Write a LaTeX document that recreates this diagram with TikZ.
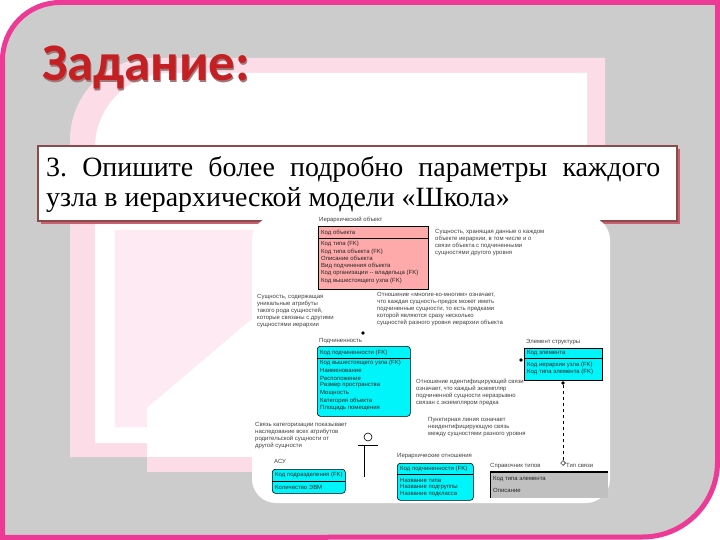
\documentclass[tikz,border=0pt]{standalone}
\usepackage{fontspec}
\setmainfont{Liberation Serif}
\newfontfamily\titlefont{Carlito}
\newfontfamily\dfont{Liberation Sans}
\usetikzlibrary{shapes.geometric}
\frenchspacing
\definecolor{bordpink}{RGB}{236,58,150}
\definecolor{slgray}{RGB}{204,204,204}
\definecolor{framepink}{RGB}{252,221,231}
\definecolor{lightpink}{RGB}{253,234,242}
\definecolor{titlered}{RGB}{196,32,36}
\definecolor{titleshadow}{RGB}{160,120,120}
\definecolor{boxbrd}{RGB}{140,75,75}
\definecolor{boxshadow}{RGB}{200,95,115}
\definecolor{entpink}{RGB}{255,170,170}
\definecolor{entcyan}{RGB}{0,245,250}
\definecolor{entgray}{RGB}{192,192,192}
\begin{document}
\begin{tikzpicture}[x=1bp,y=-1bp,
  dtext/.style={font=\dfont\fontsize{6}{7}\selectfont, inner sep=0pt, anchor=north west, align=left, text=black!75},
  ent/.style={draw=black, line width=0.6bp, inner sep=0pt, anchor=north west},
  row/.style={font=\dfont\fontsize{6}{7}\selectfont, inner sep=0pt, anchor=west, text=black!85},
  sep/.style={draw=black, line width=0.5bp},
  dot/.style={circle, fill=black, inner sep=0pt, minimum size=3.6bp},
]
\useasboundingbox (0,0) rectangle (720,540);
\fill[white] (0,0) rectangle (720,540);
% slide background
\draw[bordpink, line width=5bp, fill=slgray] (2.5,537.5) -- (2.5,60)
  arc[start angle=180, end angle=270, radius=57.5] -- (717.5,2.5) -- (717.5,462)
  arc[start angle=0, end angle=90, radius=75] -- cycle;
% decorative frame
\fill[framepink] (70,457) -- (70,140) arc[start angle=180, end angle=270, radius=82] -- (605,58) -- (605,457) -- cycle;
\fill[white] (95,443) -- (95,148) arc[start angle=180, end angle=270, radius=75] -- (587,73) -- (587,443) -- cycle;
\fill[lightpink] (115,230) -- (253,230) -- (253,318) -- (147,408) -- (147,427) -- (115,427) -- cycle;
\fill[white] (147,408) -- (253,318) -- (253,457) -- (147,457) -- cycle;
\fill[framepink] (147,457) rectangle (253,472);
% title
\node[anchor=base west, inner sep=0pt, text=titleshadow, font=\titlefont\bfseries\fontsize{53}{53}\selectfont] (titlesh) at (43.2,82.2) {Задание:};
\node[anchor=base west, inner sep=0pt, text=titlered, font=\titlefont\bfseries\fontsize{53}{53}\selectfont] (title) at (42,81) {Задание:};
% question box
\fill[boxshadow] (41,149) rectangle (680,224);
\draw[boxbrd, line width=1.2bp, fill=white] (38,146) rectangle (677,221);
\node[anchor=base west, inner sep=0pt, font=\fontsize{28}{30}\selectfont] (q1) at (46,177) {\makebox[614bp][s]{3. Опишите более подробно параметры каждого}};
\node[anchor=base west, inner sep=0pt, font=\fontsize{28}{30}\selectfont] (q2) at (46,207) {узла в иерархической модели «Школа»};
% diagram picture
\fill[white, rounded corners=24bp] (252,216) rectangle (610,503);
% entity: hierarchical object
\node[dtext] (t1) at (319,217) {Иерархический объект};
\node[ent, fill=entpink, minimum width=110bp, minimum height=63bp] (e1) at (318,226) {};
\draw[sep] (318,238) -- (428,238);
\node[row] (e1r1) at (321,232.5) {Код объекта};
\node[row] (e1r2) at (321,244) {Код типа (FK)};
\node[row] (e1r3) at (321,251.5) {Код типа объекта (FK)};
\node[row] (e1r4) at (321,258.5) {Описание объекта};
\node[row] (e1r5) at (321,265.5) {Вид подчинения объекта};
\node[row] (e1r6) at (321,273) {Код организации -- владельца (FK)};
\node[row] (e1r7) at (321,280.5) {Код вышестоящего узла (FK)};
% notes
\node[dtext] (n1) at (435,229) {Сущность, хранящая данные о каждом\\объекте иерархии, в том числе и о\\связи объекта с подчиненными\\сущностями другого уровня};
\node[dtext] (n2) at (257,294) {Сущность, содержащая\\уникальные атрибуты\\такого рода сущностей,\\которые связаны с другими\\сущностями иерархии};
\node[dtext] (n3) at (377,292) {Отношение «многие-ко-многим» означает,\\что каждая сущность-предок может иметь\\подчиненные сущности, то есть предками\\которой являются сразу несколько\\сущностей разного уровня иерархии объекта};
\node[dot] (d1) at (363,333) {};
% entity: subordination
\node[dtext] (t2) at (319,338.5) {Подчиненность};
\node[ent, fill=entcyan, rounded corners=3bp, minimum width=93bp, minimum height=70bp] (e2) at (317,346) {};
\draw[sep] (317,358) -- (410,358);
\node[row] (e2r1) at (320,352.5) {Код подчиненности (FK)};
\node[row] (e2r2) at (320,363) {Код вышестоящего узла (FK)};
\node[row] (e2r3) at (320,370.5) {Наименование};
\node[row] (e2r4) at (320,378) {Расположение};
\node[row] (e2r5) at (320,385.5) {Размер пространства};
\node[row] (e2r6) at (320,393) {Мощность};
\node[row] (e2r7) at (320,400.5) {Категория объекта};
\node[row] (e2r8) at (320,408.5) {Площадь помещения};
% entity: structure element
\node[dtext] (t3) at (526,339) {Элемент структуры};
\node[ent, fill=entcyan, minimum width=78bp, minimum height=32bp] (e3) at (524,348) {};
\draw[sep] (524,358) -- (602,358);
\node[row] (e3r1) at (527,353) {Код элемента};
\node[row] (e3r2) at (527,365) {Код иерархии узла (FK)};
\node[row] (e3r3) at (527,372) {Код типа элемента (FK)};
\node[dot] (d2) at (521,360) {};
\node[dot] (d3) at (563,383) {};
% more notes
\node[dtext] (n4) at (416,379) {Отношение идентифицирующей связи\\означает, что каждый экземпляр\\подчиненной сущности неразрывно\\связан с экземпляром предка};
\node[dtext] (n5) at (428,417) {Пунктирная линия означает\\неидентифицирующую связь\\между сущностями разного уровня};
\node[dtext] (n6) at (255,422) {Связь категоризации показывает\\наследование всех атрибутов\\родительской сущности от\\другой сущности};
% categorisation symbol
\node[circle, draw=black, line width=0.6bp, inner sep=0pt, minimum size=8bp] (cat) at (368,437) {};
\coordinate (catl) at (358,445);
\coordinate (catr) at (378,445);
\coordinate (catm) at (364,445);
\coordinate (catb) at (364,477);
\draw[line width=0.6bp] (catl) -- (catr);
\draw[line width=0.6bp] (catm) -- (catb);
% entity: ASU
\node[dtext] (t4) at (274,459) {АСУ};
\node[ent, fill=entcyan, rounded corners=3bp, minimum width=73bp, minimum height=24bp] (e4) at (272,469) {};
\draw[sep] (272,481) -- (345,481);
\node[row] (e4r1) at (275,475) {Код подразделения (FK)};
\node[row] (e4r2) at (275,487.5) {Количество ЭВМ};
% entity: hierarchical relations
\node[dtext] (t5) at (397,453) {Иерархические отношения};
\node[ent, fill=entcyan, rounded corners=3bp, minimum width=76bp, minimum height=37bp] (e5) at (397,463) {};
\draw[sep] (397,474) -- (473,474);
\node[row] (e5r1) at (400,468.5) {Код подчиненности (FK)};
\node[row] (e5r2) at (400,480) {Название типа};
\node[row] (e5r3) at (400,487) {Название подгруппы};
\node[row] (e5r4) at (400,494) {Название подкласса};
% entity: type reference (gray)
\node[dtext] (t6) at (490,463) {Справочник типов};
\node[dtext] (t7) at (566,463) {Тип связи};
\fill[entgray] (490,472) rectangle (608,498);
\draw[line width=0.6bp] (608,472) -- (490,472) -- (490,498);
\draw[line width=1.2bp] (490,472) -- (608,472);
\node[row] (e6r1) at (493,479) {Код типа элемента};
\node[row] (e6r2) at (493,490) {Описание};
\node[diamond, draw=black, line width=0.5bp, inner sep=0pt, minimum size=5bp, fill=white] (dm) at (563,463) {};
\draw[dashed, line width=0.6bp] (d3) -- (dm);
\end{tikzpicture}
\end{document}
